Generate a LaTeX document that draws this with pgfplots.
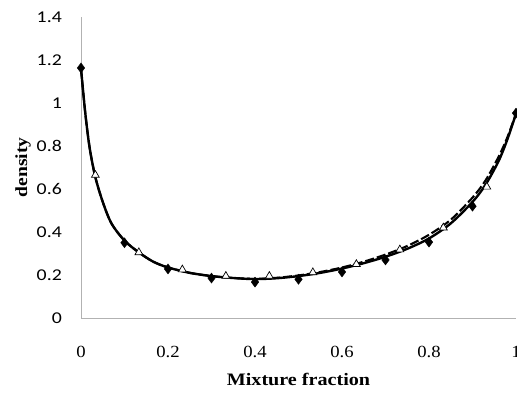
\documentclass[border=0pt]{standalone}
\usepackage{pgfplots}
\pgfplotsset{compat=1.18}
\usepackage{fontspec}
\setmainfont{Liberation Serif}
\newfontfamily\ytfont[FakeStretch=1.2]{Carlito}
\newfontfamily\xtfont[FakeStretch=1.1]{Liberation Serif}
\newfontfamily\lbfont[FakeStretch=1.15]{Liberation Serif}
\begin{document}
\begin{tikzpicture}
\begin{axis}[
  at={(0,0)}, anchor=origin,
  scale only axis, width=435bp, height=301bp,
  xmin=0, xmax=1, ymin=0, ymax=1.4,
  axis x line*=bottom, axis y line*=left,
  axis line style={draw=black!30, line width=0.8bp, -},
  major tick length=0pt,
  xtick={0,0.2,0.4,0.6,0.8,1},
  ytick={0,0.2,0.4,0.6,0.8,1,1.2,1.4},
  /pgf/number format/assume math mode=true,
  /pgf/number format/fixed,
  /pgf/number format/precision=1,
  xticklabel style={font=\xtfont\fontsize{17bp}{20bp}\selectfont, anchor=base, inner sep=0pt, yshift=-39bp},
  yticklabel style={font=\ytfont\fontsize{16.5bp}{20bp}\selectfont, anchor=east, inner sep=0pt, xshift=-19bp},
  xlabel={Mixture fraction},
  ylabel={density},
  xlabel style={font=\lbfont\bfseries\fontsize{17.5bp}{20bp}\selectfont, at={(axis description cs:0.5,-0.2226)}, anchor=base},
  ylabel style={font=\lbfont\bfseries\fontsize{17bp}{20bp}\selectfont, at={(axis description cs:-0.124,0.5)}, anchor=base},
  clip=false,
]
% solid model curve
\addplot[black, line width=2.4bp, smooth, tension=0.5] coordinates {
(0,1.16) (0.01,0.95) (0.02,0.79) (0.033,0.655) (0.05,0.54) (0.07,0.44)
(0.1,0.36) (0.133,0.305) (0.166,0.262) (0.2,0.235) (0.25,0.21) (0.3,0.195)
(0.35,0.186) (0.4,0.181) (0.45,0.185) (0.5,0.195) (0.55,0.21) (0.6,0.23)
(0.65,0.255) (0.7,0.285) (0.75,0.322) (0.8,0.37) (0.85,0.44) (0.9,0.54)
(0.93,0.62) (0.96,0.73) (0.98,0.83) (1.0,0.95)};
% dashed model curve
\addplot[black, line width=2.1bp, dash pattern=on 9bp off 3bp, smooth, tension=0.5] coordinates {
(0,1.16) (0.01,0.95) (0.02,0.79) (0.033,0.655) (0.05,0.54) (0.07,0.44)
(0.1,0.36) (0.133,0.305) (0.166,0.262) (0.2,0.235) (0.25,0.21) (0.3,0.195)
(0.35,0.186) (0.4,0.182) (0.45,0.187) (0.5,0.198) (0.55,0.214) (0.6,0.235)
(0.65,0.262) (0.7,0.295) (0.75,0.335) (0.8,0.387) (0.85,0.457) (0.9,0.56)
(0.93,0.64) (0.96,0.75) (0.98,0.84) (1.0,0.95)};
% triangles
\addplot[only marks, mark=triangle*, mark size=4.5bp, mark options={fill=white, draw=black, line width=0.7bp}] coordinates {
(0.033,0.665) (0.133,0.305) (0.233,0.225) (0.333,0.195) (0.433,0.195)
(0.533,0.212) (0.633,0.25) (0.733,0.318) (0.833,0.42) (0.933,0.61)};
% diamonds
\addplot[only marks, mark=diamond*, mark size=5bp, mark options={fill=black, draw=black}] coordinates {
(0,1.163) (0.1,0.35) (0.2,0.228) (0.3,0.186) (0.4,0.167) (0.5,0.18)
(0.6,0.214) (0.7,0.27) (0.8,0.353) (0.9,0.52) (1.0,0.953)};
\end{axis}
\pgfresetboundingbox
\path (-81bp,-77bp) rectangle (436bp,318bp);
\end{tikzpicture}
\end{document}
